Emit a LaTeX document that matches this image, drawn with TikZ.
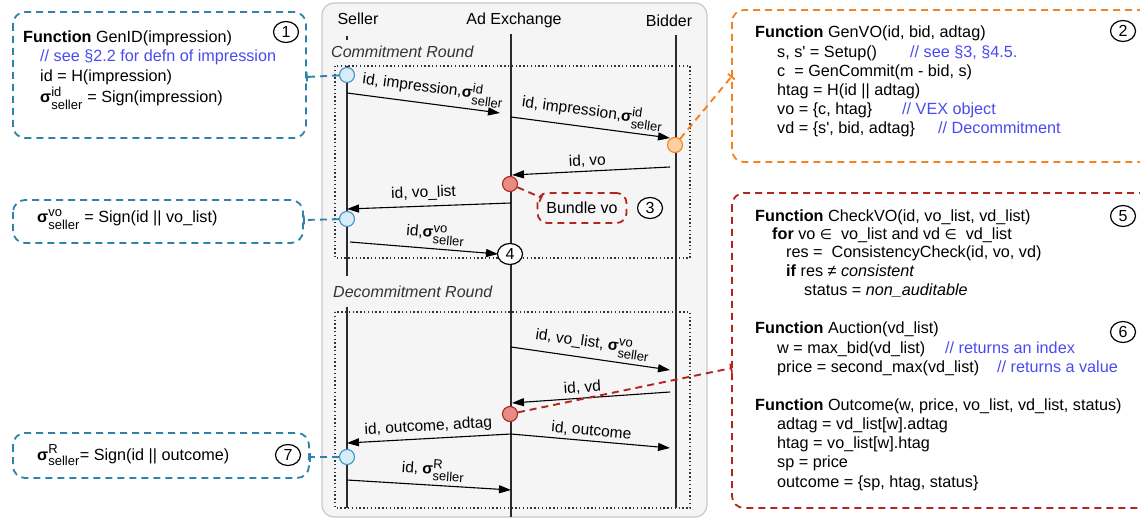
\documentclass[tikz,border=0pt]{standalone}
\usepackage{fontspec}
\setmainfont{Liberation Sans}
\newfontfamily\symf{DejaVu Sans}
\usepackage{amsmath}
\usetikzlibrary{arrows.meta,shapes.geometric}
\definecolor{bluebox}{HTML}{2E83AA}
\definecolor{bluec}{HTML}{3D97CC}
\definecolor{bluefill}{HTML}{D7ECF7}
\definecolor{orangeb}{HTML}{F58220}
\definecolor{orangefill}{HTML}{FDD0A2}
\definecolor{redb}{HTML}{B3261E}
\definecolor{redfill}{HTML}{E58C86}
\definecolor{cmtblue}{HTML}{4A4AF2}
\definecolor{panelfill}{HTML}{F5F5F5}
\definecolor{panelline}{HTML}{C8C8C8}
\definecolor{lifegray}{HTML}{2A2A2A}
\newcommand{\sg}[2]{\textbf{σ}\ensuremath{^{\mbox{\fontsize{13}{13}\selectfont #1}}_{\mbox{\fontsize{13}{13}\selectfont #2}}}}
\newcommand{\elt}{{\symf\fontsize{14}{14}\selectfont ∈}}
\newcommand{\ap}{\textquotesingle}
\tikzset{
  lbl/.style={font=\fontsize{15.5}{18}\selectfont, inner sep=1pt},
  code/.style={anchor=base west, font=\fontsize{16.2}{19}\selectfont, inner sep=0pt},
  cmt/.style={code, text=cmtblue},
  hdr/.style={anchor=base, font=\fontsize{16}{18}\selectfont, inner sep=0pt},
  rnd/.style={anchor=base west, font=\itshape\fontsize{16}{18}\selectfont, text=black!80, inner sep=0pt},
  msg/.style={draw=black, line width=1.1pt, -{Triangle[length=12pt,width=8pt]}},
  life/.style={draw=lifegray, line width=1.3pt},
  num/.style={ellipse, draw=black, line width=1.2pt, fill=white, minimum width=25pt, minimum height=21pt, inner sep=0pt, font=\fontsize{16}{16}\selectfont},
  dbox/.style={rounded corners=12pt, line width=1.8pt, dash pattern=on 7pt off 5pt},
  dotbox/.style={draw=black!80, line width=1.1pt, dash pattern=on 1.4pt off 2.4pt},
  conn/.style={line width=1.9pt, dash pattern=on 7pt off 5pt, -{Bar[width=9pt,line width=1.8pt]}},
  bdot/.style={circle, draw=bluec, fill=bluefill, line width=1.1pt, minimum size=15pt, inner sep=0pt},
  odot/.style={circle, draw=orangeb, fill=orangefill, line width=1.1pt, minimum size=15pt, inner sep=0pt},
  rdot/.style={circle, draw=redb, fill=redfill, line width=1.1pt, minimum size=15pt, inner sep=0pt},
}
\begin{document}
\begin{tikzpicture}[x=1pt,y=-1pt]
\clip (0,0) rectangle (1140,518);
\useasboundingbox (0,0) rectangle (1140,518);

% central panel
\draw[fill=panelfill, draw=panelline, line width=1.2pt, rounded corners=12pt] (322,3) rectangle (707,517);

% headers
\node[hdr] (hs) at (358,25) {Seller};
\node[hdr] (ha) at (514,25) {Ad Exchange};
\node[hdr] (hb) at (669,27) {Bidder};

% round labels
\node[rnd] (rc) at (331,58) {Commitment Round};
\node[rnd] (rd) at (333,298) {Decommitment Round};

% dotted boxes
\draw[dotbox] (335,66) rectangle (690,258);
\draw[dotbox] (335,312) rectangle (690,508);

% lifelines
\draw[life] (347,36) -- (347,40);
\draw[life] (347,66) -- (347,276);
\draw[life] (347,307) -- (347,508);
\draw[life] (511,34) -- (511,517);
\draw[life] (676,35) -- (676,508);

% message coordinates
\coordinate (m1s) at (347,93);  \coordinate (m1e) at (500,113);
\coordinate (m2s) at (511,117); \coordinate (m2e) at (670,138);
\coordinate (m3s) at (670,167); \coordinate (m3e) at (512,175);
\coordinate (m4s) at (511,203); \coordinate (m4e) at (347,209);
\coordinate (m5s) at (350,242); \coordinate (m5e) at (498,254);
\coordinate (d1s) at (511,347); \coordinate (d1e) at (670,370);
\coordinate (d2s) at (670,392); \coordinate (d2e) at (512,403);
\coordinate (d3s) at (511,434); \coordinate (d3e) at (347,443);
\coordinate (d4s) at (511,434); \coordinate (d4e) at (670,448);
\coordinate (d5s) at (347,480); \coordinate (d5e) at (511,490);

\draw[msg] (m1s) -- node[lbl, above=3pt, sloped, pos=0.55] (l1) {id, impression,\sg{id}{seller}} (m1e);
\draw[msg] (m2s) -- node[lbl, above=3pt, sloped, pos=0.5] (l2) {id, impression,\sg{id}{seller}} (m2e);
\draw[msg] (m3s) -- node[lbl, above=2pt, sloped, pos=0.52] (l3) {id, vo} (m3e);
\draw[msg] (m4s) -- node[lbl, above=4pt, sloped, pos=0.53] (l4) {id, vo\_list} (m4e);
\draw[msg] (m5s) -- node[lbl, above=3pt, sloped, pos=0.57] (l5) {id,\sg{vo}{seller}} (m5e);
\draw[msg] (d1s) -- node[lbl, above=3pt, sloped, pos=0.5] (l6) {id, vo\_list, \sg{vo}{seller}} (d1e);
\draw[msg] (d2s) -- node[lbl, above=2pt, sloped, pos=0.55] (l7) {id, vd} (d2e);
\draw[msg] (d3s) -- node[lbl, above=3pt, sloped, pos=0.5] (l8) {id, outcome, adtag} (d3e);
\draw[msg] (d4s) -- node[lbl, above=2pt, sloped, pos=0.5] (l9) {id, outcome} (d4e);
\draw[msg] (d5s) -- node[lbl, above=3pt, sloped, pos=0.52] (l10) {id, \sg{R}{seller}} (d5e);

% lifeline dots
\node[bdot] (c1) at (347,75) {};
\node[odot] (c2) at (675,145) {};
\node[rdot] (c3) at (510,184) {};
\node[bdot] (c4) at (347,219) {};
\node[rdot] (c5) at (510,414) {};
\node[bdot] (c7) at (347,457) {};
\node[num] (n4) at (510,254) {4};

% Bundle vo
\node[draw=redb, dbox, rounded corners=10pt, minimum width=89pt, minimum height=30pt, inner sep=0pt, font=\fontsize{16}{16}\selectfont] (bv) at (582,208) {Bundle vo};
\node[num] (n3) at (650,208) {3};
\coordinate (bvc) at (542,198);
\draw[conn, draw=redb] (c3) -- (bvc);

% Box 1 (blue)
\draw[dbox, draw=bluebox] (13,12) rectangle (306,138);
\coordinate (b1r) at (306,77);
\node[num] (n1) at (286,32) {1};
\node[code] (t11) at (23,43) {\textbf{Function} GenID(impression)};
\node[cmt] (t12) at (40,62) {// see §2.2 for defn of impression};
\node[code] (t13) at (40,82) {id = H(impression)};
\node[code] (t14) at (40,103) {\sg{id}{seller} = Sign(impression)};
\draw[conn, draw=bluebox] (c1) -- (b1r);

% Box sigma vo
\draw[dbox, draw=bluebox] (13,200) rectangle (303,243);
\coordinate (b2r) at (303,220);
\node[code] (t21) at (37,223) {\sg{vo}{seller} = Sign(id || vo\_list)};
\draw[conn, draw=bluebox] (c4) -- (b2r);

% Box 7
\draw[dbox, draw=bluebox] (13,433) rectangle (309,478);
\coordinate (b7r) at (309,457);
\node[code] (t71) at (37,460) {\sg{R}{seller}= Sign(id || outcome)};
\node[num] (n7) at (288,455) {7};
\draw[conn, draw=bluebox] (c7) -- (b7r);

% Box 2 (orange)
\draw[dbox, draw=orangeb] (732,10) rectangle (1160,162);
\coordinate (b3l) at (732,76);
\node[num] (n2) at (1123,31) {2};
\node[code] (t31) at (755,38) {\textbf{Function} GenVO(id, bid, adtag)};
\node[code] (t32) at (777,58) {s, s\ap\ = Setup()};
\node[cmt] (t32c) at (910,58) {// see §3, §4.5.};
\node[code] (t33) at (777,77) {c\ \ = GenCommit(m - bid, s)};
\node[code] (t34) at (777,96) {htag = H(id || adtag)};
\node[code] (t35) at (777,115) {vo = \{c, htag\}};
\node[cmt] (t35c) at (902,115) {// VEX object};
\node[code] (t36) at (777,134) {vd = \{s\ap, bid, adtag\}};
\node[cmt] (t36c) at (938,134) {// Decommitment};
\draw[conn, draw=orangeb] (c2) -- (b3l);

% Box 5/6 (red)
\draw[dbox, draw=redb] (732,193) rectangle (1160,508);
\coordinate (b5l) at (732,368);
\node[num] (n5) at (1123,216) {5};
\node[num] (n6) at (1123,332) {6};
\node[code] (t51) at (755,222) {\textbf{Function} CheckVO(id, vo\_list, vd\_list)};
\node[code] (t52) at (772,240) {\textbf{for} vo \elt\ \ vo\_list and vd \elt\ \ vd\_list};
\node[code] (t53) at (786,258) {res =\ \ ConsistencyCheck(id, vo, vd)};
\node[code] (t54) at (786,277) {\textbf{if} res ≠ \textit{consistent}};
\node[code] (t55) at (804,296) {status = \textit{non\_auditable}};
\node[code] (t61) at (755,334) {\textbf{Function} Auction(vd\_list)};
\node[code] (t62) at (777,353) {w = max\_bid(vd\_list)};
\node[cmt] (t62c) at (945,353) {// returns an index};
\node[code] (t63) at (777,372) {price = second\_max(vd\_list)};
\node[cmt] (t63c) at (997,372) {// returns a value};
\node[code] (t64) at (755,410) {\textbf{Function} Outcome(w, price, vo\_list, vd\_list, status)};
\node[code] (t65) at (777,429) {adtag = vd\_list[w].adtag};
\node[code] (t66) at (777,448) {htag = vo\_list[w].htag};
\node[code] (t67) at (777,467) {sp = price};
\node[code] (t68) at (777,487) {outcome = \{sp, htag, status\}};
\draw[conn, draw=redb] (c5) -- (b5l);
\end{tikzpicture}
\end{document}
